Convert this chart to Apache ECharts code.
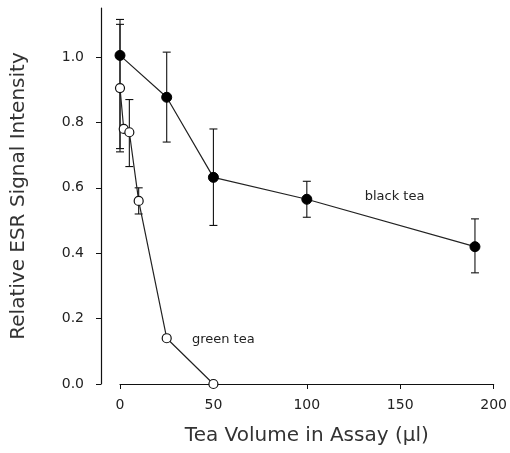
<!DOCTYPE html>
<html>
<head>
<meta charset="utf-8">
<script src="https://cdn.jsdelivr.net/npm/echarts@6/dist/echarts.min.js"></script>
<style>
  html, body { margin: 0; padding: 0; background: #fff; }
  #chart { width: 510px; height: 453px; }
</style>
</head>
<body>
<div id="chart"></div>
<script>
// values
const blackX = [0, 25, 50, 100, 190];
const blackY = [1.005, 0.877, 0.632, 0.565, 0.42];
const blackLow = [0.71, 0.74, 0.485, 0.51, 0.34];
const blackHigh = [1.115, 1.015, 0.78, 0.62, 0.505];

const greenX = [0, 2, 5, 10, 25, 50];
const greenY = [0.905, 0.78, 0.77, 0.56, 0.14, 0.0];
const greenLow = [0.72, 0.78, 0.665, 0.52, 0.14, 0.0];
const greenHigh = [1.1, 0.78, 0.87, 0.6, 0.14, 0.0];

const yTicks = [0, 0.2, 0.4, 0.6, 0.8, 1.0];

const chart = echarts.init(document.getElementById('chart'));

function errData (xs, lo, hi) {
  return xs.map((x, i) => [x, lo[i], hi[i]]).filter(d => d[2] - d[1] > 0.001);
}

// vertical error bar with small caps
function renderErr (params, api) {
  const top = api.coord([api.value(0), api.value(2)]);
  const bot = api.coord([api.value(0), api.value(1)]);
  const w = 4;
  const st = { stroke: '#111', lineWidth: 1.1 };
  return {
    type: 'group',
    children: [
      { type: 'line', shape: { x1: top[0], y1: top[1], x2: bot[0], y2: bot[1] }, style: st },
      { type: 'line', shape: { x1: top[0] - w, y1: top[1], x2: top[0] + w, y2: top[1] }, style: st },
      { type: 'line', shape: { x1: bot[0] - w, y1: bot[1], x2: bot[0] + w, y2: bot[1] }, style: st }
    ]
  };
}

const font = 'DejaVu Sans';

const option = {
  animation: false,
  backgroundColor: '#fff',
  grid: { left: 120, right: 15, top: 8, bottom: 69 },
  xAxis: {
    type: 'value',
    min: 0,
    max: 200,
    interval: 50,
    name: 'Tea Volume in Assay (\u03bcl)',
    nameLocation: 'middle',
    nameGap: 42,
    nameTextStyle: { fontFamily: font, fontSize: 20, color: '#333' },
    axisLine: { onZero: false, lineStyle: { color: '#111', width: 1.2 } },
    axisTick: { length: 5, lineStyle: { color: '#111' } },
    axisLabel: { fontFamily: font, fontSize: 14, color: '#222', margin: 14 },
    splitLine: { show: false }
  },
  yAxis: {
    type: 'value',
    min: 0,
    max: 1.15,
    offset: 19,
    name: 'Relative ESR Signal Intensity',
    nameLocation: 'middle',
    nameGap: 72,
    nameTextStyle: { fontFamily: font, fontSize: 20, color: '#333' },
    axisLine: { show: true, onZero: false, lineStyle: { color: '#111', width: 1.2 } },
    axisTick: { show: true, length: 5, customValues: yTicks, lineStyle: { color: '#111' } },
    axisLabel: {
      fontFamily: font, fontSize: 14, color: '#222', margin: 17,
      customValues: yTicks,
      formatter: v => v.toFixed(1)
    },
    splitLine: { show: false }
  },
  series: [
    {
      type: 'custom',
      renderItem: renderErr,
      data: errData(blackX, blackLow, blackHigh),
      encode: { x: 0, y: [1, 2] },
      z: 1
    },
    {
      type: 'custom',
      renderItem: renderErr,
      data: errData(greenX, greenLow, greenHigh),
      encode: { x: 0, y: [1, 2] },
      z: 1
    },
    {
      name: 'black tea',
      type: 'line',
      data: blackX.map((x, i) => [x, blackY[i]]),
      symbol: 'circle',
      symbolSize: 10,
      itemStyle: { color: '#000', borderColor: '#000', borderWidth: 1 },
      lineStyle: { color: '#222', width: 1.2 },
      z: 3,
      markPoint: {
        symbol: 'circle', symbolSize: 0,
        label: { show: true, position: 'right', distance: 0, formatter: 'black tea', fontFamily: font, fontSize: 13, color: '#222' },
        data: [{ coord: [131, 0.572] }]
      }
    },
    {
      name: 'green tea',
      type: 'line',
      data: greenX.map((x, i) => [x, greenY[i]]),
      symbol: 'circle',
      symbolSize: 9,
      itemStyle: { color: '#fff', borderColor: '#111', borderWidth: 1.2 },
      lineStyle: { color: '#222', width: 1.2 },
      z: 4,
      markPoint: {
        symbol: 'circle', symbolSize: 0,
        label: { show: true, position: 'right', distance: 0, formatter: 'green tea', fontFamily: font, fontSize: 13, color: '#222' },
        data: [{ coord: [38.5, 0.135] }]
      }
    }
  ]
};

chart.setOption(option);
</script>
</body>
</html>
